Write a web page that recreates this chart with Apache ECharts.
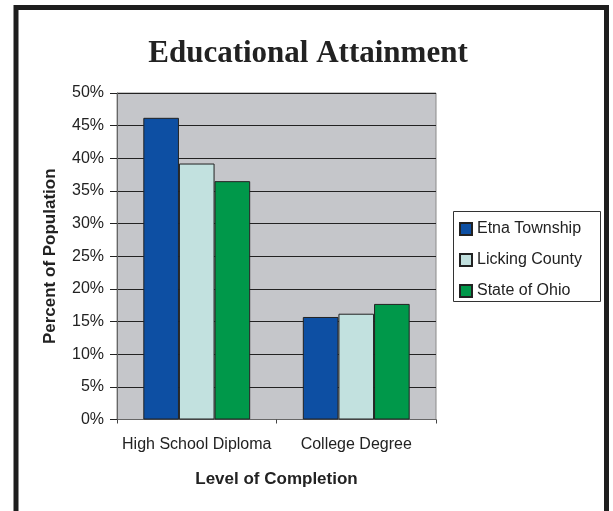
<!DOCTYPE html>
<html>
<head>
<meta charset="utf-8">
<script src="https://cdn.jsdelivr.net/npm/echarts@6/dist/echarts.min.js"></script>
<style>
html,body{margin:0;padding:0;background:#fff;}
#main{width:613px;height:511px;}
</style>
</head>
<body>
<div id="main"></div>
<script>
var categories = ['High School Diploma', 'College Degree'];
var seriesNames = ['Etna Township', 'Licking County', 'State of Ohio'];
var etna = [46.2, 15.7];
var licking = [39.2, 16.2];
var ohio = [36.5, 17.7];
var yTicks = [0, 5, 10, 15, 20, 25, 30, 35, 40, 45, 50];

var colors = ['#0d4fa3', '#c2e1df', '#00984a'];
var chart = echarts.init(document.getElementById('main'), null, {renderer: 'canvas'});
var sans = 'Liberation Sans, Arial, sans-serif';
var dataSets = [etna, licking, ohio];
var series = seriesNames.map(function (n, i) {
  return {
    name: n,
    type: 'bar',
    data: dataSets[i],
    barGap: '0%',
    barCategoryGap: '33%',
    itemStyle: {color: colors[i], borderColor: '#222', borderWidth: 1},
    emphasis: {disabled: true}
  };
});
chart.setOption({
  animation: false,
  backgroundColor: '#fff',
  title: {
    text: 'Educational Attainment',
    left: 303, top: 33, textAlign: 'center',
    textStyle: {fontFamily: 'Liberation Serif, serif', fontWeight: 'bold', fontSize: 31, color: '#222'}
  },
  grid: {
    left: 117, right: 177, top: 93, bottom: 91.5,
    show: true, backgroundColor: '#c5c6ca', borderColor: '#8a8a8a', borderWidth: 1
  },
  legend: {
    orient: 'vertical', left: 454, top: 216,
    icon: 'rect',
    itemWidth: 12, itemHeight: 12, itemGap: 15,
    textStyle: {fontFamily: sans, fontSize: 16, color: '#222', padding: [0, 0, 0, 0]},
    data: seriesNames
  },
  xAxis: {
    type: 'category', data: categories,
    name: 'Level of Completion', nameLocation: 'middle', nameGap: 51,
    nameTextStyle: {fontFamily: sans, fontSize: 17, fontWeight: 'bold', color: '#222', verticalAlign: 'top'},
    axisLine: {lineStyle: {color: '#666', width: 1}},
    axisTick: {show: true, length: 4, lineStyle: {color: '#444'}},
    axisLabel: {fontFamily: sans, fontSize: 16, color: '#222', margin: 17, interval: 0, hideOverlap: false}
  },
  yAxis: {
    type: 'value', min: 0, max: 50, interval: 5,
    name: 'Percent of Population', nameLocation: 'middle', nameGap: 58,
    nameTextStyle: {fontFamily: sans, fontSize: 17, fontWeight: 'bold', color: '#222'},
    axisLine: {show: true, lineStyle: {color: '#666', width: 1}},
    axisTick: {show: true, length: 7, lineStyle: {color: '#222'}},
    axisLabel: {fontFamily: sans, fontSize: 16, color: '#222', margin: 13,
      formatter: function (v) { return yTicks.indexOf(v) >= 0 ? v + '%' : ''; }},
    splitLine: {show: true, lineStyle: {color: '#222', width: 1}}
  },
  graphic: [
    {type: 'rect', shape: {x: 16, y: 7.5, width: 590.5, height: 530}, style: {fill: null, stroke: '#1e1e1e', lineWidth: 5}, silent: true},
    {type: 'rect', shape: {x: 453.5, y: 211.5, width: 147, height: 90}, style: {fill: null, stroke: '#333', lineWidth: 1}, silent: true}
  ],
  series: series
});
</script>
</body>
</html>
